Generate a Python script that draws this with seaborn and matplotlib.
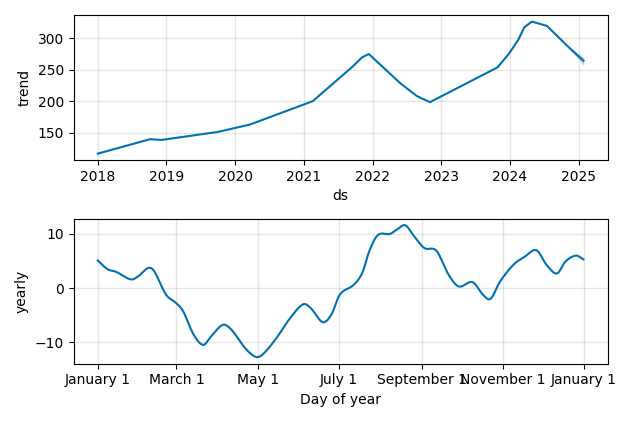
import numpy as np
import pandas as pd
import matplotlib
matplotlib.use("Agg")
import matplotlib.pyplot as plt
import matplotlib.dates as mdates
import seaborn as sns

# ---- data ----
trend_dates = ["2018-01-01", "2018-10-05", "2018-12-06", "2019-10-01", "2020-03-20",
               "2021-02-17", "2021-09-16", "2021-11-06", "2021-12-12", "2022-05-30",
               "2022-08-25", "2022-11-02", "2023-10-27", "2023-12-28", "2024-02-14",
               "2024-03-18", "2024-04-27", "2024-07-16", "2024-11-15", "2025-01-26"]
trend_vals = [116.5, 139.4, 138.3, 151.0, 162.8,
              200.0, 254.8, 269.7, 275.0, 228.0,
              208.0, 198.4, 253.7, 276.0, 297.3,
              317.6, 326.6, 319.7, 284.0, 264.4]
band_dates = ["2024-11-15", "2025-01-26"]
band_lower = [283.5, 258.5]
band_upper = [284.5, 269.0]

yearly_days = [0, 7.2, 13.7, 24.8, 30.5, 37.7, 42.1, 51.2, 58.9, 64.1, 71.9, 79.1, 84.8,
               93.8, 100.3, 110.6, 118.4, 123.6, 133.9, 144.2, 154.1, 159.8, 168.8, 175.3,
               181.7, 192.1, 198.5, 203.7, 210.2, 219.2, 224.4, 230.8, 237.3, 245.1, 254.1,
               263.2, 270.9, 281.3, 289.0, 294.7, 301.9, 312.3, 320.0, 329.1, 336.8, 344.6,
               351.0, 358.8, 364.5]
yearly_vals = [5.1, 3.5, 3.0, 1.6, 2.2, 3.7, 3.2, -1.2, -2.8, -4.3, -8.6, -10.5, -9.0,
               -6.8, -7.7, -11.1, -12.7, -12.3, -9.3, -5.6, -3.0, -3.7, -6.3, -4.9,
               -1.2, 0.6, 2.8, 6.8, 9.8, 10.0, 10.8, 11.6, 9.6, 7.4, 6.9,
               2.5, 0.3, 1.1, -1.2, -2.0, 1.2, 4.4, 5.7, 7.0, 4.3, 2.7,
               4.9, 6.0, 5.3]

color = "#0072B2"

trend_df = pd.DataFrame({"ds": pd.to_datetime(trend_dates), "trend": trend_vals})
# smooth yearly curve via cubic interpolation of the read points (for drawing only)
yd = np.array(yearly_days)
yv = np.array(yearly_vals)
from numpy.polynomial import polynomial as P
fine = np.linspace(yd.min(), yd.max(), 800)
# Catmull-Rom style smoothing
def catmull(x, y, xs):
    out = np.empty_like(xs)
    n = len(x)
    m = np.zeros(n)
    for i in range(n):
        if i == 0:
            m[i] = (y[1] - y[0]) / (x[1] - x[0])
        elif i == n - 1:
            m[i] = (y[-1] - y[-2]) / (x[-1] - x[-2])
        else:
            m[i] = (y[i + 1] - y[i - 1]) / (x[i + 1] - x[i - 1])
    idx = np.clip(np.searchsorted(x, xs) - 1, 0, n - 2)
    for k, (xx, i) in enumerate(zip(xs, idx)):
        h = x[i + 1] - x[i]
        t = (xx - x[i]) / h
        h00 = 2 * t**3 - 3 * t**2 + 1
        h10 = t**3 - 2 * t**2 + t
        h01 = -2 * t**3 + 3 * t**2
        h11 = t**3 - t**2
        out[k] = h00 * y[i] + h10 * h * m[i] + h01 * y[i + 1] + h11 * h * m[i + 1]
    return out
fine_v = catmull(yd, yv, fine)
yearly_df = pd.DataFrame({"ds": pd.Timestamp("2017-01-01") + pd.to_timedelta(fine, unit="D"),
                          "yearly": fine_v})

fig, axes = plt.subplots(2, 1, figsize=(6.34, 4.22), dpi=100)

ax = axes[0]
sns.lineplot(data=trend_df, x="ds", y="trend", ax=ax, color=color, linewidth=1.5)
ax.fill_between(pd.to_datetime(band_dates), band_lower, band_upper, color=color, alpha=0.2)
ax.grid(True, which="major", c="gray", ls="-", lw=1, alpha=0.2)
ax.xaxis.set_major_locator(mdates.YearLocator())
ax.xaxis.set_major_formatter(mdates.DateFormatter("%Y"))
ax.set_xlabel("ds")
ax.set_ylabel("trend")

ax = axes[1]
sns.lineplot(data=yearly_df, x="ds", y="yearly", ax=ax, color=color, linewidth=1.5)
ax.grid(True, which="major", c="gray", ls="-", lw=1, alpha=0.2)
ax.xaxis.set_major_locator(mdates.MonthLocator(bymonth=range(1, 13), bymonthday=1, interval=2))
ax.xaxis.set_major_formatter(matplotlib.ticker.FuncFormatter(
    lambda x, pos=None: "{dt:%B} {dt.day}".format(dt=mdates.num2date(x))))
ax.set_xlabel("Day of year")
ax.set_ylabel("yearly")

fig.tight_layout()
fig.savefig("out.png", dpi=100)
